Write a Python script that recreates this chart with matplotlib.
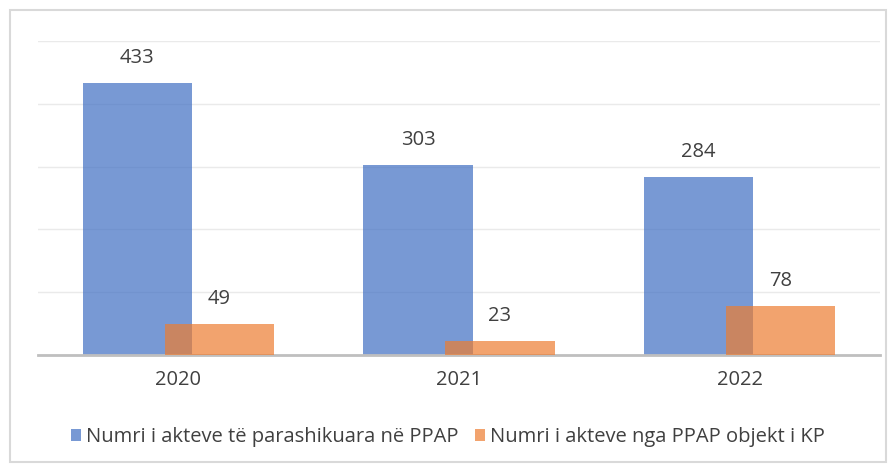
import matplotlib.pyplot as plt
from matplotlib.patches import Rectangle
import numpy as np

# data
years = ["2020", "2021", "2022"]
planned = [433, 303, 284]      # Numri i akteve të parashikuara në PPAP
reviewed = [49, 23, 78]        # Numri i akteve nga PPAP objekt i KP
series_names = ["Numri i akteve të parashikuara në PPAP",
                "Numri i akteve nga PPAP objekt i KP"]

plt.rcParams['font.family'] = ['Open Sans', 'DejaVu Sans']

fig = plt.figure(figsize=(8.96, 4.72), dpi=100)
# outer frame of the chart
fig.patches.append(Rectangle((10 / 896, 10 / 472), 876 / 896, 452 / 472,
                             transform=fig.transFigure, fill=False,
                             edgecolor="#D9D9D9", linewidth=1.5))

ax = fig.add_axes([38 / 896, (472 - 355) / 472, 842 / 896, (355 - 41) / 472])

x = np.arange(len(years))
w = 0.39
off = 0.146
b1 = ax.bar(x - off, planned, w, color="#4472C4", alpha=0.72, label=series_names[0], zorder=2)
b2 = ax.bar(x + off, reviewed, w, color="#ED7D31", alpha=0.70, label=series_names[1], zorder=3)

for bars, vals in [(b1, planned), (b2, reviewed)]:
    for r, v in zip(bars, vals):
        ax.annotate(str(v), (r.get_x() + r.get_width() / 2, v), xytext=(0, 18),
                    textcoords="offset points", ha="center", va="center",
                    fontsize=14.5, color="#404040")

ax.set_xlim(-0.5, 2.5)
ax.set_ylim(0, 500)
ax.set_yticks([0, 100, 200, 300, 400, 500])
ax.yaxis.grid(True, color="#EAEAEA", linewidth=1, zorder=0)
ax.set_axisbelow(True)
ax.tick_params(axis='y', left=False, labelleft=False)
ax.tick_params(axis='x', length=0, labelsize=14.5, labelcolor="#404040", pad=11)
ax.set_xticks(x)
ax.set_xticklabels(years)
for s in ["top", "right", "left"]:
    ax.spines[s].set_visible(False)
ax.spines["bottom"].set_color("#BFBFBF")
ax.spines["bottom"].set_linewidth(2)

fig.legend(loc="center", bbox_to_anchor=(0.5, (472 - 437) / 472), ncol=2, frameon=False,
           fontsize=14.5, handlelength=0.5, handleheight=0.5, handletextpad=0.25,
           columnspacing=0.8, labelcolor="#404040")

fig.savefig("out.png", dpi=100)
